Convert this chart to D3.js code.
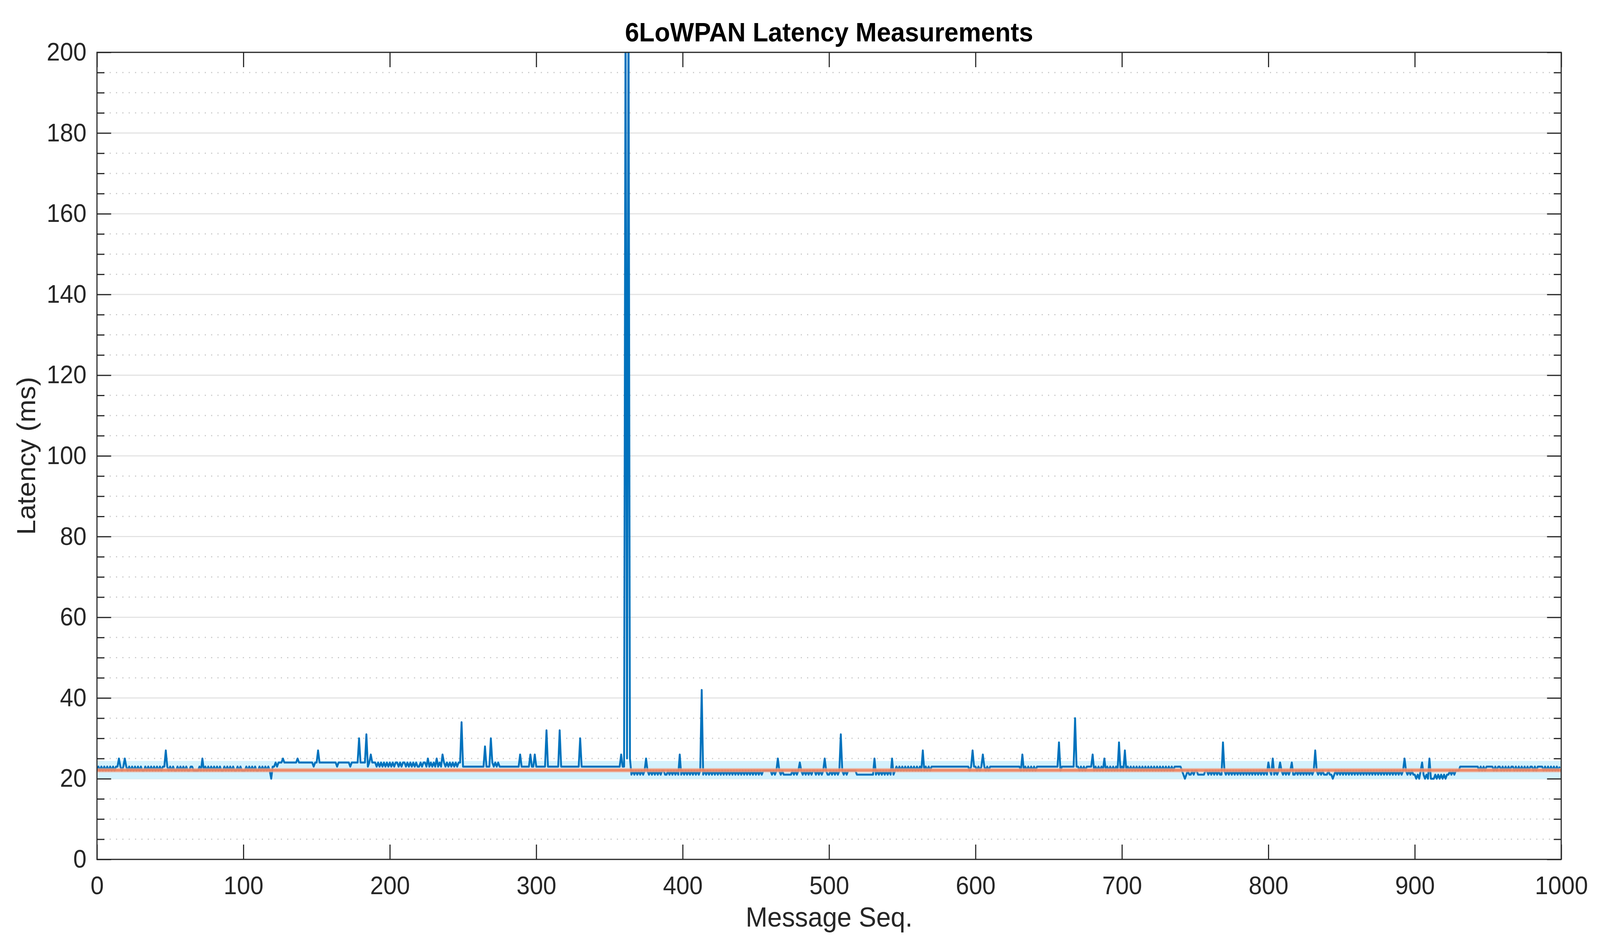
<!DOCTYPE html>
<html>
<head>
<meta charset="utf-8">
<script src="https://cdn.jsdelivr.net/npm/d3@7"></script>
<style>
  html, body { margin: 0; padding: 0; background: #fff; overflow: hidden; }
  svg { display: block; width: 100vw; height: 100vh; font-family: "Liberation Sans", Arial, sans-serif; }
</style>
</head>
<body>
<svg id="chart" viewBox="0 0 4290 2414" preserveAspectRatio="none"></svg>
<script>
// Baseline latency per message, one digit per seq: value = 20 + digit
var baseLevels = [
  '2323232323', '2323323232', '3232323232', '3223232323', '2323233232',
  '3232232323', '2322332222', '3232323232', '3232322323', '2323223232',
  '2232323232', '2323232320', '3343444544', '4444444544', '4444444434',
  '4444444444', '4444344444', '4443444444', '4444434344', '4343434343',
  '4343443434', '4343434343', '3434434343', '4343434434', '3434343443',
  '3333333333', '3333333333', '4343433333', '3333333333', '3333333333',
  '3333333333', '3333333333', '3333333333', '3333333333', '3333333333',
  '3333333333', '3322212121', '2121212121', '2121212211', '2121212121',
  '2121212121', '2122121212', '1212121212', '1212121212', '1212121212',
  '1212122222', '2121212121', '1111121212', '1212121212', '2121212121',
  '1212121212', '1212222221', '1111111111', '1212121212', '1212123232',
  '3232323232', '3232323232', '3333333333', '3333333333', '3333332323',
  '3232323232', '3333333333', '3333333333', '3232323232', '3233333333',
  '3333333323', '3333333333', '3232323333', '3232323232', '3232323232',
  '3232323232', '3232323232', '3232323232', '3232323333', '3210121121',
  '2211111221', '2121212111', '2121212121', '2121212121', '2121212121',
  '1212121212', '1212121112', '1212121212', '1212121211', '1211012121',
  '2121212121', '2121212121', '2121212121', '2121212121', '2121212121',
  '1010201010', '1000101010', '1011212122', '2333333333', '3333232323',
  '3333232332', '3232323323', '2323232323', '3232333323', '2323232323'
];

// Spikes: [seq, latency ms]
var spikes = [
  [15, 25], [19, 25], [47, 27], [72, 25], [151, 27], [179, 30], [184, 31],
  [187, 26], [226, 25], [232, 25], [236, 26], [249, 34], [265, 28], [269, 30],
  [289, 26], [296, 26], [299, 26], [307, 32], [316, 32], [330, 30], [358, 26],
  [361, 215], [362, 25], [363, 215], [364, 25], [375, 25], [398, 26], [413, 42],
  [465, 25], [480, 24], [497, 25], [508, 31], [531, 25], [543, 25], [564, 27],
  [598, 27], [605, 26], [632, 26], [657, 29], [668, 35], [680, 26], [688, 25],
  [698, 29], [702, 27], [769, 29], [800, 24], [803, 25], [808, 24], [816, 24],
  [832, 27], [893, 25], [905, 24], [910, 25]
];

var meanLatency = 22.1;
var bandLow = 19.9;
var bandHigh = 24.4;

var xTicks = [0, 100, 200, 300, 400, 500, 600, 700, 800, 900, 1000];
var yTicks = [0, 20, 40, 60, 80, 100, 120, 140, 160, 180, 200];

// build the series
var data = baseLevels.join('').split('').map(function(c, i) {
  return {seq: i, value: 20 + (+c)};
});
spikes.forEach(function(s) { if (data[s[0]]) data[s[0]].value = s[1]; });

var svg = d3.select('#chart');
var margin = {top: 134, right: 104, bottom: 214, left: 260};
var width = 4290 - margin.left - margin.right;
var height = 2414 - margin.top - margin.bottom;
var g = svg.append('g').attr('transform', 'translate(' + margin.left + ',' + margin.top + ')');

var x = d3.scaleLinear().domain([0, 1000]).range([0, width]);
var y = d3.scaleLinear().domain([0, 200]).range([height, 0]);

svg.append('defs').append('clipPath').attr('id', 'clip')
  .append('rect').attr('width', width).attr('height', height);

// minor dotted grid
var minor = d3.range(0, 201, 5).filter(function(v) { return v % 20 !== 0; });
g.selectAll('.minor').data(minor).enter().append('line')
  .attr('x1', 0).attr('x2', width)
  .attr('y1', function(d) { return y(d); }).attr('y2', function(d) { return y(d); })
  .attr('stroke', '#c8c8c8').attr('stroke-width', 3).attr('stroke-dasharray', '3,14');

// major grid
g.selectAll('.major').data(yTicks).enter().append('line')
  .attr('x1', 0).attr('x2', width)
  .attr('y1', function(d) { return y(d); }).attr('y2', function(d) { return y(d); })
  .attr('stroke', '#e3e3e3').attr('stroke-width', 3);

// band
g.append('rect')
  .attr('x', 0).attr('width', width)
  .attr('y', y(bandHigh)).attr('height', y(bandLow) - y(bandHigh))
  .attr('fill', '#d4f1fc');

var line = d3.line()
  .x(function(d) { return x(d.seq); })
  .y(function(d) { return y(d.value); });

g.append('path').datum(data)
  .attr('clip-path', 'url(#clip)')
  .attr('fill', 'none')
  .attr('stroke', '#0072bd')
  .attr('stroke-width', 5)
  .attr('stroke-linejoin', 'round')
  .attr('d', line);

// mean line
g.append('line')
  .attr('x1', 0).attr('x2', width).attr('y1', y(meanLatency)).attr('y2', y(meanLatency))
  .attr('stroke', '#f0a890').attr('stroke-opacity', 0.7).attr('stroke-width', 11);
g.append('line')
  .attr('x1', 0).attr('x2', width).attr('y1', y(meanLatency)).attr('y2', y(meanLatency))
  .attr('stroke', '#f07d58').attr('stroke-opacity', 0.8).attr('stroke-width', 6);

// axes (mirrored box like MATLAB)
function styleAxis(sel) {
  sel.selectAll('.domain').remove();
  sel.selectAll('line').attr('stroke', '#262626').attr('stroke-width', 3);
  sel.selectAll('text').attr('fill', '#262626').attr('font-size', 64);
}

g.append('g').attr('transform', 'translate(0,' + height + ')')
  .call(d3.axisBottom(x).tickValues(xTicks).tickSize(-38).tickPadding(44).tickFormat(d3.format('d')))
  .call(styleAxis);
g.append('g')
  .call(d3.axisTop(x).tickValues(xTicks).tickSize(-38).tickFormat(''))
  .call(styleAxis);
g.append('g')
  .call(d3.axisLeft(y).tickValues(yTicks).tickSize(-38).tickPadding(28).tickFormat(d3.format('d')))
  .call(styleAxis);
g.append('g').attr('transform', 'translate(' + width + ',0)')
  .call(d3.axisRight(y).tickValues(yTicks).tickSize(-38).tickFormat(''))
  .call(styleAxis);
g.append('g')
  .call(d3.axisLeft(y).tickValues(minor).tickSize(-20).tickFormat(''))
  .call(styleAxis);
g.append('g').attr('transform', 'translate(' + width + ',0)')
  .call(d3.axisRight(y).tickValues(minor).tickSize(-20).tickFormat(''))
  .call(styleAxis);

g.append('rect').attr('width', width).attr('height', height)
  .attr('fill', 'none').attr('stroke', '#262626').attr('stroke-width', 3);

// labels
svg.append('text').attr('x', margin.left + width / 2).attr('y', 106)
  .attr('text-anchor', 'middle').attr('font-size', 68).attr('font-weight', 'bold')
  .attr('fill', '#000').text('6LoWPAN Latency Measurements');
svg.append('text').attr('x', margin.left + width / 2).attr('y', 2372)
  .attr('text-anchor', 'middle').attr('font-size', 70).attr('fill', '#262626')
  .text('Message Seq.');
svg.append('text')
  .attr('transform', 'translate(94,' + (margin.top + height / 2) + ') rotate(-90)')
  .attr('text-anchor', 'middle').attr('font-size', 70).attr('fill', '#262626')
  .text('Latency (ms)');
</script>
</body>
</html>
